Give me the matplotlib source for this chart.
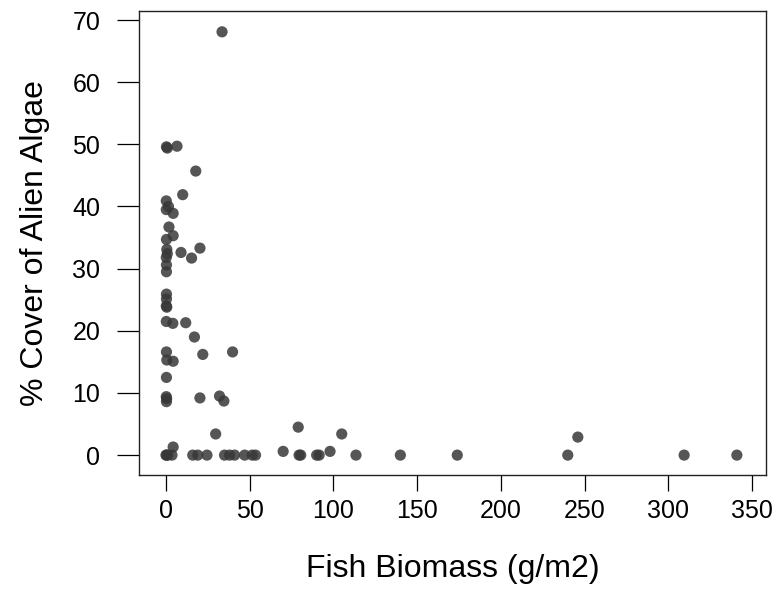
import numpy as np
import matplotlib
matplotlib.use("Agg")
import matplotlib.pyplot as plt

plt.rcParams['font.family'] = ['Liberation Sans', 'DejaVu Sans']

# fish biomass (g/m2) and % cover of alien algae
biomass = [33.5, 0.3, 0.8, 6.6, 17.8, 10.0, 0.2, 1.5, 0.2, 4.3,
           1.8, 4.3, 0.3, 0.5, 0.8, 9.0, 15.3, 20.3, 0.2, 0.3,
           0.3, 0.3, 0.3, 0.2, 0.5, 0.2, 4.1, 11.8, 17.0, 0.3,
           22.0, 39.8, 0.5, 4.3, 0.3, 0.2, 0.4, 0.3, 20.3, 32.0,
           34.6, 29.7, 4.3,
           0.0, 0.5, 1.0, 3.6, 16.0, 19.0, 24.5, 35.0, 38.0, 41.0,
           47.0, 51.5, 53.5, 70.0, 79.0, 79.5, 80.5, 90.0, 91.5, 98.0,
           105.0, 113.5, 140.0, 174.0, 240.0, 246.0, 309.5, 341.0]
cover = [68.1, 49.6, 49.4, 49.7, 45.7, 41.9, 40.9, 40.0, 39.5, 38.9,
         36.7, 35.3, 34.7, 33.1, 32.4, 32.6, 31.7, 33.3, 31.8, 30.6,
         29.5, 25.9, 25.1, 24.0, 23.8, 21.5, 21.2, 21.3, 19.0, 16.6,
         16.2, 16.6, 15.3, 15.1, 12.5, 9.4, 9.1, 8.6, 9.2, 9.5,
         8.7, 3.4, 1.3,
         0.0, 0.0, 0.0, 0.0, 0.0, 0.0, 0.0, 0.0, 0.0, 0.0,
         0.0, 0.0, 0.0, 0.6, 4.5, 0.0, 0.0, 0.0, 0.0, 0.6,
         3.4, 0.0, 0.0, 0.0, 0.0, 2.9, 0.0, 0.0]

xticks = [0, 50, 100, 150, 200, 250, 300, 350]
yticks = [0, 10, 20, 30, 40, 50, 60, 70]

fig = plt.figure(figsize=(7.76, 5.96), dpi=100)
ax = fig.add_axes([139/776, 1-475/596, (766-139)/776, (475-10.7)/596])

ax.scatter(biomass, cover, s=65, color='#383838', alpha=0.85, edgecolors='none')

ax.set_xlim(-16.1, 358.4)
ax.set_ylim(-3.2, 71.5)
ax.set_xticks(xticks)
ax.set_yticks(yticks)
ax.tick_params(axis='x', length=11.5, width=0.9, pad=6, labelsize=18)
ax.tick_params(axis='y', length=15.8, width=0.9, pad=12, labelsize=18)
for sp in ax.spines.values():
    sp.set_linewidth(1.0)
    sp.set_color('#222222')

ax.set_xlabel("Fish Biomass (g/m2)", fontsize=23, labelpad=22)
ax.set_ylabel("% Cover of Alien Algae", fontsize=23, labelpad=16)

fig.savefig("out.png", dpi=100)
